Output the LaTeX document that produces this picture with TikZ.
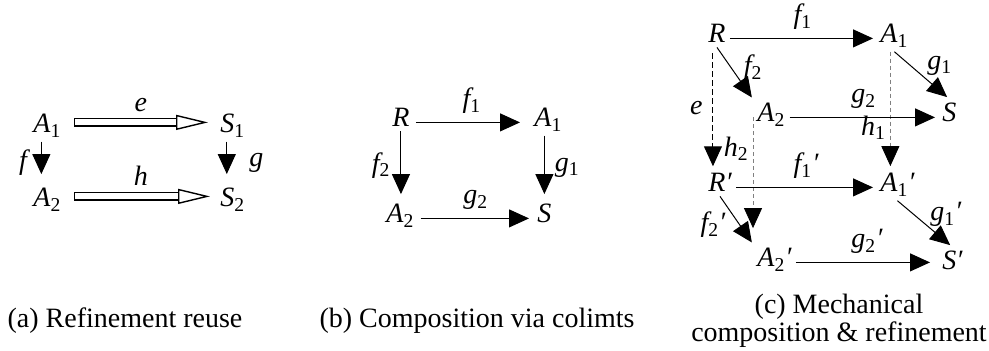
\documentclass[tikz,border=0pt]{standalone}
\usepackage{fontspec}
\setmainfont{Liberation Serif}
\usetikzlibrary{arrows.meta, positioning}
\newcommand{\ix}[1]{\textsubscript{\upshape #1}}
\newcommand{\prm}{′}
\tikzset{
	obj/.style ={inner sep=2pt, anchor=base west, font=\fontsize{14}{16}\selectfont\itshape},
	lbl/.style ={inner sep=1pt, font=\fontsize{14}{16}\selectfont\itshape},
	mor/.style ={-{Triangle[length=10pt, width=9pt]}, line width=0.5pt},
	dmor/.style={mor, dash pattern=on 3pt off 1.5pt},
	gmor/.style={-{Triangle[length=10pt, width=9pt, black]}, line width=0.4pt, draw=gray, dash pattern=on 2pt off 1.5pt},
	refi/.style={double, double distance=3pt, line width=0.7pt, {Bar[width=4.4pt, line width=0.7pt]}-{Triangle[open, length=16pt, width=7.5pt]}},
	capt/.style={font=\fontsize{14}{14}\selectfont, align=center},
}
\begin{document}
\begin{tikzpicture}[x=0.5pt, y=-0.5pt]
	\useasboundingbox (0,0) rectangle (989,351);
	% (a) refinement reuse
	\node[obj] (aA1) at (29,133) {A\ix{1}};
	\node[obj] (aS1) at (216,133) {S\ix{1}};
	\node[obj] (aA2) at (29,207) {A\ix{2}};
	\node[obj] (aS2) at (216,207) {S\ix{2}};
	\draw[refi, shorten <=4pt, shorten >=4pt] ([yshift=3pt]aA1.mid east) -- ([yshift=3pt]aS1.mid west) node[lbl, midway, above=4pt] (le) {e};
	\draw[refi, shorten <=4pt, shorten >=3pt] ([yshift=3pt]aA2.mid east) -- ([yshift=3pt]aS2.mid west) node[lbl, midway, above=4pt] (lh) {h};
	\draw[mor, shorten >=5pt] ([xshift=-3pt]aA1.south) -- ([xshift=-3pt]aA1.south |- aA2.north) node[lbl, midway, left=6pt] (lf) {f};
	\draw[mor, shorten >=5pt] ([xshift=-3pt]aS1.south) -- ([xshift=-3pt]aS1.south |- aS2.north) node[lbl, midway, right=10pt] (lg) {g};
	% (b) composition via colimits
	\node[obj] (bR) at (388,127) {R};
	\node[obj] (bA1) at (530,127) {A\ix{1}};
	\node[obj] (bA2) at (382,223) {A\ix{2}};
	\node[obj] (bS) at (533,223) {S};
	\draw[mor, shorten <=1pt, shorten >=5pt] (bR.mid east) -- (bA1.mid west) node[lbl, midway, above=3pt] (lbf1) {f\ix{1}};
	\draw[mor, shorten <=1pt, shorten >=2pt] (bA2.mid east) -- (bS.mid west) node[lbl, midway, above=3pt] (lbg2) {g\ix{2}};
	\draw[mor, shorten >=3pt] (bR.south) -- (bR.south |- bA2.north) node[lbl, midway, left=4pt] (lbf2) {f\ix{2}};
	\draw[mor, shorten >=3pt] (bA1.south -| bS.north) -- (bS.north) node[lbl, midway, right=4pt] (lbg1) {g\ix{1}};
	% (c) mechanical composition and refinement
	\node[obj] (cR) at (704,43) {R};
	\node[obj] (cA1) at (876,43) {A\ix{1}};
	\node[obj] (cA2) at (753,122) {A\ix{2}};
	\node[obj] (cS) at (938,122) {S};
	\node[obj] (cRp) at (704,192) {R\prm};
	\node[obj] (cA1p) at (876,192) {A\ix{1}\prm};
	\node[obj] (cA2p) at (753,267) {A\ix{2}\prm};
	\node[obj] (cSp) at (938,270) {S\prm};
	\draw[gmor, shorten >=1.5pt] ([xshift=-2pt]cA1.south) -- ([xshift=-2pt]cA1.south |- cA1p.north) node[lbl, pos=0.65, left=1pt] (lh1) {h\ix{1}};
	\draw[gmor, shorten >=8pt] (cA2.mid west) -- (cA2.mid west |- cA2p.north) node[lbl, pos=0.25, left=1pt] (lh2) {h\ix{2}};
	\draw[dmor, shorten <=3pt, shorten >=1.5pt] ([xshift=-2pt]cR.south) -- ([xshift=-2pt]cR.south |- cRp.north) node[lbl, midway, left=4pt] (le2) {e};
	\draw[mor, shorten >=1.5pt] (cR.mid east) -- (cA1.mid west) node[lbl, midway, above=3pt] (lf1) {f\ix{1}};
	\draw[mor, shorten >=1pt] (cR.south) -- (cA2.north west) node[lbl, pos=0.4, anchor=west, xshift=5pt] (lf2) {f\ix{2}};
	\draw[mor, shorten >=1.5pt] (cA1.south) -- (cS.north) node[lbl, pos=0.3, anchor=west, xshift=7pt] (lg1) {g\ix{1}};
	\draw[mor, shorten >=1.5pt] (cA2.mid east) -- (cS.mid west) node[lbl, midway, above=3pt] (lg2) {g\ix{2}};
	\draw[mor, shorten >=1.5pt] (cRp.mid east) -- (cA1p.mid west) node[lbl, midway, above=3pt] (lf1p) {f\ix{1}\prm};
	\draw[mor, shorten >=1pt] (cRp.south) -- (cA2p.north west) node[lbl, pos=0.6, anchor=east, xshift=-6pt] (lf2p) {f\ix{2}\prm};
	\draw[mor, shorten >=1.5pt] (cA1p.south) -- (cSp.north) node[lbl, pos=0.3, anchor=west, xshift=7pt] (lg1p) {g\ix{1}\prm};
	\draw[mor, shorten >=4pt] (cA2p.mid east) -- (cA2p.mid east -| cSp.west) node[lbl, midway, above=3pt] (lg2p) {g\ix{2}\prm};
	% captions
	\node[capt, anchor=base] (capa) at (125,328) {(a) Refinement reuse};
	\node[capt, anchor=base] (capb) at (477,328) {(b) Composition via colimts};
	\node[capt] (capc) at (839,321) {(c) Mechanical\\ composition \& refinement};
\end{tikzpicture}
\end{document}
